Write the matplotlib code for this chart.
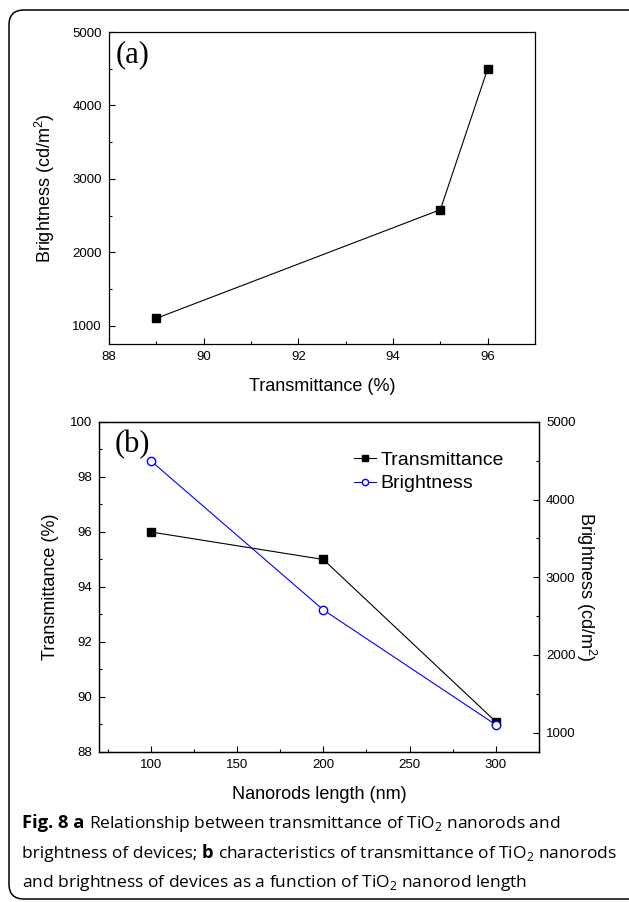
import matplotlib

matplotlib.use("Agg")
import matplotlib.pyplot as plt
from matplotlib.patches import FancyBboxPatch
from matplotlib.ticker import MultipleLocator

# panel (a): brightness vs transmittance
trans_a = [89, 95, 96]
bright_a = [1100, 2580, 4500]

# panel (b): vs nanorod length
length_nm = [100, 200, 300]
trans_b = [96.0, 95.0, 89.1]
bright_b = [4500, 2580, 1100]

# caption lines as (text, weight) pieces
caption_lines = [
    [("Fig. 8 a ", "bold"), ("Relationship between transmittance of TiO$_2$ nanorods and", "normal")],
    [("brightness of devices; ", "normal"), ("b ", "bold"),
     ("characteristics of transmittance of TiO$_2$ nanorods", "normal")],
    [("and brightness of devices as a function of TiO$_2$ nanorod length", "normal")],
]

plt.rcParams["font.family"] = ["Liberation Sans", "DejaVu Sans"]
plt.rcParams["mathtext.fontset"] = "custom"
plt.rcParams["mathtext.rm"] = "Open Sans"
plt.rcParams["mathtext.sf"] = "Liberation Sans"

fig = plt.figure(figsize=(6.29, 9.02), dpi=100)
ylab = r"Brightness (cd/m$^{\mathsf{2}}$)"


def style_axis(ax):
    ax.tick_params(which="both", direction="in", labelsize=9.5, width=0.8, pad=5)
    ax.tick_params(which="major", length=4)
    ax.tick_params(which="minor", length=2.5)
    for s in ax.spines.values():
        s.set_linewidth(0.9)


# ---- panel (a)
ax1 = fig.add_axes([0.1733, 0.6186, 0.6773, 0.3459])
ax1.plot(trans_a, bright_a, "k-s", lw=0.8, ms=5.5)
ax1.set_xlim(88, 97)
ax1.set_ylim(750, 5000)
ax1.xaxis.set_major_locator(MultipleLocator(2))
ax1.xaxis.set_minor_locator(MultipleLocator(1))
ax1.yaxis.set_major_locator(MultipleLocator(1000))
ax1.yaxis.set_minor_locator(MultipleLocator(500))
style_axis(ax1)
ax1.set_xlabel("Transmittance (%)", fontsize=13, labelpad=11)
ax1.set_ylabel(ylab, fontsize=13, labelpad=11)
ax1.text(0.015, 0.975, "(a)", transform=ax1.transAxes, va="top", ha="left",
         fontsize=22, family="Liberation Serif")

# ---- panel (b)
ax2 = fig.add_axes([0.1574, 0.1663, 0.6995, 0.3659])
ax2.plot(length_nm, trans_b, "k-s", lw=0.8, ms=5.5, label="Transmittance")
ax2.set_xlim(70, 325)
ax2.set_ylim(88, 100)
ax2.xaxis.set_major_locator(MultipleLocator(50))
ax2.xaxis.set_minor_locator(MultipleLocator(25))
ax2.yaxis.set_major_locator(MultipleLocator(2))
ax2.yaxis.set_minor_locator(MultipleLocator(1))
style_axis(ax2)
ax2.set_xlabel("Nanorods length (nm)", fontsize=13, labelpad=11)
ax2.set_ylabel("Transmittance (%)", fontsize=13, labelpad=8)
ax2.text(0.035, 0.975, "(b)", transform=ax2.transAxes, va="top", ha="left",
         fontsize=22, family="Liberation Serif")

ax3 = ax2.twinx()
ax3.plot(length_nm, bright_b, "b-o", lw=0.8, ms=6, mfc="white", label="Brightness")
ax3.set_ylim(750, 5000)
ax3.yaxis.set_major_locator(MultipleLocator(1000))
ax3.yaxis.set_minor_locator(MultipleLocator(500))
style_axis(ax3)
ax3.set_ylabel(ylab, fontsize=13, rotation=270, labelpad=16)

handles = ax2.get_lines() + ax3.get_lines()
ax2.legend(handles, [h.get_label() for h in handles], loc="upper left",
           bbox_to_anchor=(0.58, 0.91), frameon=False, fontsize=14,
           handlelength=1.1, handletextpad=0.25, borderaxespad=0, borderpad=0,
           labelspacing=0.28, markerscale=0.75)

# ---- caption, bold and regular pieces laid side by side
renderer = fig.canvas.get_renderer()
inv = fig.transFigure.inverted()

for pieces, y in zip(caption_lines, [0.082, 0.0488, 0.0166]):
    x = 0.035
    for txt, weight in pieces:
        size = 13.2 if weight == "bold" else 12.5
        t = fig.text(x, y, txt, fontweight=weight, fontsize=size,
                     family=["Open Sans", "DejaVu Sans"], va="baseline")
        bb = t.get_window_extent(renderer)
        x = inv.transform((bb.x1, bb.y0))[0]

# rounded outer frame (right side runs off the image)
frame = FancyBboxPatch((0.09, 0.03), 7.0, 8.89,
                       boxstyle="round,pad=0,rounding_size=0.15",
                       transform=fig.dpi_scale_trans, fill=False,
                       lw=1.1, ec="black", clip_on=False)
fig.patches.append(frame)

fig.savefig("out.png", dpi=100)
